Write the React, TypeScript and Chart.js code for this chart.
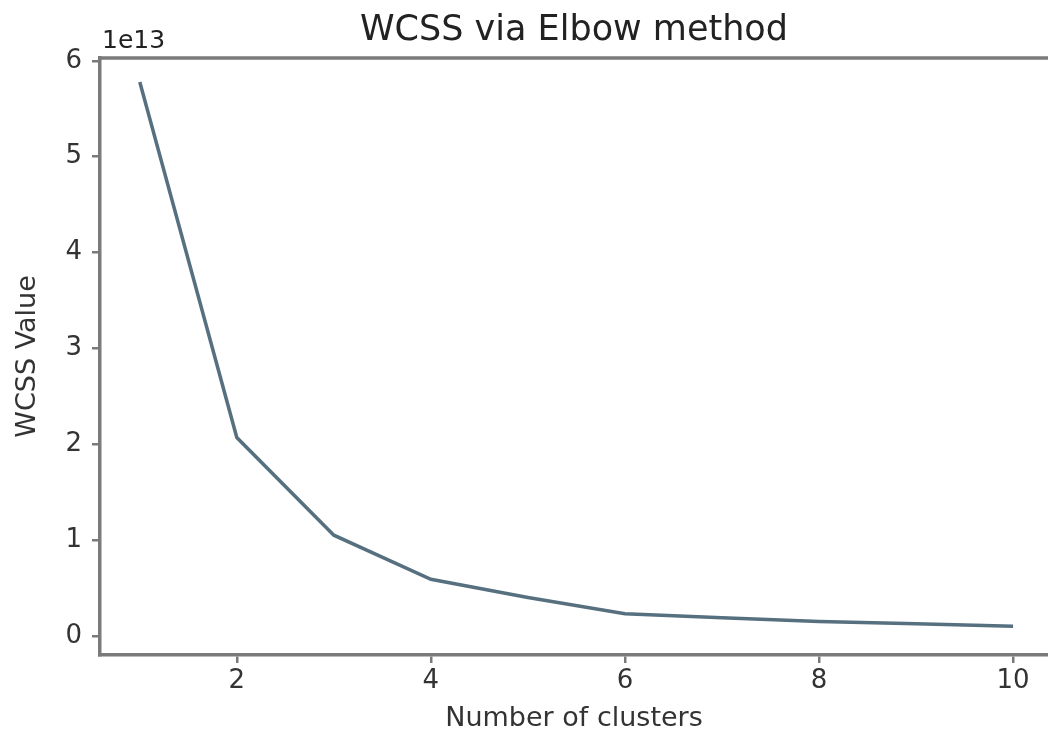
import React, { useEffect, useRef } from "react";
import { Chart, registerables } from "chart.js";

Chart.register(...registerables);

// ---- data ----
const clusterCounts = [1, 2, 3, 4, 5, 6, 7, 8, 9, 10];
const wcssValues = [5.78e13, 2.07e13, 1.05e13, 0.59e13, 0.4e13, 0.23e13, 0.19e13, 0.15e13, 0.125e13, 0.1e13];
const xTickValues = [2, 4, 6, 8, 10];
const yTickValues = [0, 1, 2, 3, 4, 5, 6];
const yScaleFactor = 1e13;
const offsetLabel = "1e13";
const chartTitle = "WCSS via Elbow method";
const xAxisTitle = "Number of clusters";
const yAxisTitle = "WCSS Value";

const FONT = '"DejaVu Sans", sans-serif';
const AXIS_COLOR = "#7a7a7a";
const TEXT_COLOR = "#333333";

const framePlugin = {
  id: "frameAndOffset",
  afterDraw(chart: any) {
    const { ctx, chartArea } = chart;
    ctx.save();
    ctx.strokeStyle = AXIS_COLOR;
    ctx.lineWidth = 3.5;
    ctx.beginPath();
    ctx.moveTo(chartArea.left - 1.75, chartArea.top);
    ctx.lineTo(chartArea.right, chartArea.top);
    ctx.stroke();
    ctx.fillStyle = "#222222";
    ctx.font = `25px ${FONT}`;
    ctx.textAlign = "left";
    ctx.textBaseline = "alphabetic";
    ctx.fillText(offsetLabel, chartArea.left + 2, chartArea.top - 10);
    ctx.restore();
  },
};

export default function App() {
  const canvasRef = useRef<HTMLCanvasElement | null>(null);

  useEffect(() => {
    if (!canvasRef.current) return;
    const chart = new Chart(canvasRef.current, {
      type: "line",
      data: {
        datasets: [
          {
            label: "WCSS",
            data: clusterCounts.map((c, i) => ({ x: c, y: wcssValues[i] })),
            borderColor: "#56707f",
            borderWidth: 3.5,
            pointRadius: 0,
            tension: 0,
            fill: false,
          },
        ],
      },
      options: {
        responsive: false,
        animation: false,
        layout: { padding: { left: 0, right: 0, top: 0, bottom: 0 } },
        plugins: {
          legend: { display: false },
          tooltip: { enabled: false },
          title: {
            display: true,
            text: chartTitle,
            fullSize: false,
            color: "#222222",
            font: { family: FONT, size: 35, weight: "normal" },
            padding: { top: 10, bottom: 6 },
          },
        },
        scales: {
          x: {
            type: "linear",
            min: 0.59,
            max: 10.36,
            afterBuildTicks: (scale: any) => {
              scale.ticks = xTickValues.map((v) => ({ value: v }));
            },
            afterFit: (scale: any) => {
              scale.height = 83;
            },
            ticks: {
              color: TEXT_COLOR,
              font: { family: FONT, size: 26 },
              padding: 3,
              maxRotation: 0,
              autoSkip: false,
              callback: (v: any) => String(v),
            },
            grid: {
              display: true,
              drawOnChartArea: false,
              drawTicks: true,
              tickLength: 8,
              color: AXIS_COLOR,
              lineWidth: 2.5,
            },
            border: { display: true, color: AXIS_COLOR, width: 3.5 },
            title: {
              display: true,
              text: xAxisTitle,
              color: TEXT_COLOR,
              font: { family: FONT, size: 27 },
              padding: { top: 0, bottom: 3 },
            },
          },
          y: {
            type: "linear",
            min: -0.2 * yScaleFactor,
            max: 6.03 * yScaleFactor,
            afterBuildTicks: (scale: any) => {
              scale.ticks = yTickValues.map((v) => ({ value: v * yScaleFactor }));
            },
            afterFit: (scale: any) => {
              scale.width = 100;
            },
            ticks: {
              color: TEXT_COLOR,
              font: { family: FONT, size: 26 },
              padding: 10,
              autoSkip: false,
              callback: (v: any) => String(Math.round(Number(v) / yScaleFactor)),
            },
            grid: {
              display: true,
              drawOnChartArea: false,
              drawTicks: true,
              tickLength: 8,
              color: AXIS_COLOR,
              lineWidth: 2.5,
            },
            border: { display: true, color: AXIS_COLOR, width: 3.5 },
            title: {
              display: true,
              text: yAxisTitle,
              color: TEXT_COLOR,
              font: { family: FONT, size: 27 },
              padding: { top: 12, bottom: 0 },
            },
          },
        },
      },
      plugins: [framePlugin],
    } as any);
    return () => chart.destroy();
  }, []);

  return (
    <div
      style={{
        position: "fixed",
        left: 0,
        top: 0,
        width: 1048,
        height: 738,
        background: "#ffffff",
      }}
    >
      <canvas ref={canvasRef} width={1048} height={738} style={{ display: "block" }} />
    </div>
  );
}
